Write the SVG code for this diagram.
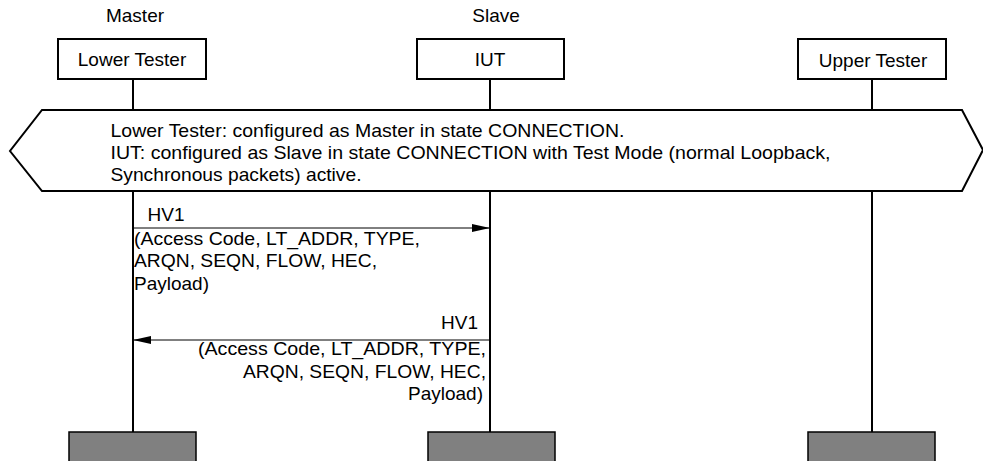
<svg xmlns="http://www.w3.org/2000/svg" width="983" height="461" viewBox="0 0 983 461">
  <defs>
    <style>
      text { font-family: "Liberation Sans", Arial, sans-serif; font-size: 19px; fill: #000; }
      .box { fill: #fff; stroke: #000; stroke-width: 2; }
      .end { fill: #808080; stroke: #000; stroke-width: 1.5; }
      .life { stroke: #000; stroke-width: 2; fill: none; }
      .msg { stroke: #000; stroke-width: 1; fill: none; }
      .mid { text-anchor: middle; }
      .right { text-anchor: end; }
    </style>
    <marker id="arrow" viewBox="0 0 18 8" refX="18" refY="4" markerWidth="18" markerHeight="8" markerUnits="userSpaceOnUse" orient="auto">
      <path d="M0,0 L18,4 L0,8 Z" fill="#000"/>
    </marker>
  </defs>

  <rect width="983" height="461" fill="#fff"/>

  <!-- lifelines -->
  <g id="lifelines">
    <line class="life" x1="133" y1="79" x2="133" y2="110"/>
    <line class="life" x1="133" y1="191" x2="133" y2="432"/>
    <line class="life" x1="490" y1="79" x2="490" y2="110"/>
    <line class="life" x1="490" y1="191" x2="490" y2="432"/>
    <line class="life" x1="872" y1="79" x2="872" y2="110"/>
    <line class="life" x1="872" y1="191" x2="872" y2="432"/>
  </g>

  <g id="lower-tester">
    <text class="mid" x="135" y="22">Master</text>
    <rect class="box" x="58" y="39" width="148" height="40"/>
    <text class="mid" x="132" y="66">Lower Tester</text>
    <rect class="end" x="69" y="432" width="127" height="32"/>
  </g>

  <g id="iut">
    <text class="mid" x="496" y="22">Slave</text>
    <rect class="box" x="417" y="39" width="147" height="40"/>
    <text class="mid" x="490" y="66">IUT</text>
    <rect class="end" x="428" y="432" width="127" height="32"/>
  </g>

  <g id="upper-tester">
    <rect class="box" x="798" y="39" width="148" height="40"/>
    <text class="mid" x="873" y="67">Upper Tester</text>
    <rect class="end" x="808" y="432" width="127" height="32"/>
  </g>

  <g id="precondition">
    <polygon class="box" points="42,110 962,110 983,150 962,191 42,191 10,151"/>
    <text x="110.5" y="136.5" textLength="514" lengthAdjust="spacingAndGlyphs">Lower Tester: configured as Master in state CONNECTION.</text>
    <text x="110.5" y="158.5" textLength="720" lengthAdjust="spacingAndGlyphs">IUT: configured as Slave in state CONNECTION with Test Mode (normal Loopback,</text>
    <text x="110.5" y="180.5" textLength="251" lengthAdjust="spacingAndGlyphs">Synchronous packets) active.</text>
  </g>

  <g id="connectors">
    <line class="msg" x1="133" y1="228" x2="490" y2="228" marker-end="url(#arrow)"/>
    <line class="msg" x1="490" y1="340" x2="133" y2="340" marker-end="url(#arrow)"/>
  </g>

  <g id="msg-labels">
    <text x="147.5" y="221">HV1</text>
    <text x="134" y="245" textLength="286" lengthAdjust="spacingAndGlyphs">(Access Code, LT_ADDR, TYPE,</text>
    <text x="134" y="267" textLength="243" lengthAdjust="spacingAndGlyphs">ARQN, SEQN, FLOW, HEC,</text>
    <text x="134" y="289.5">Payload)</text>

    <text class="right" x="478" y="328.5">HV1</text>
    <text class="right" x="486" y="355" textLength="288" lengthAdjust="spacingAndGlyphs">(Access Code, LT_ADDR, TYPE,</text>
    <text class="right" x="486" y="377.5" textLength="243" lengthAdjust="spacingAndGlyphs">ARQN, SEQN, FLOW, HEC,</text>
    <text class="right" x="483" y="400">Payload)</text>
  </g>
</svg>
